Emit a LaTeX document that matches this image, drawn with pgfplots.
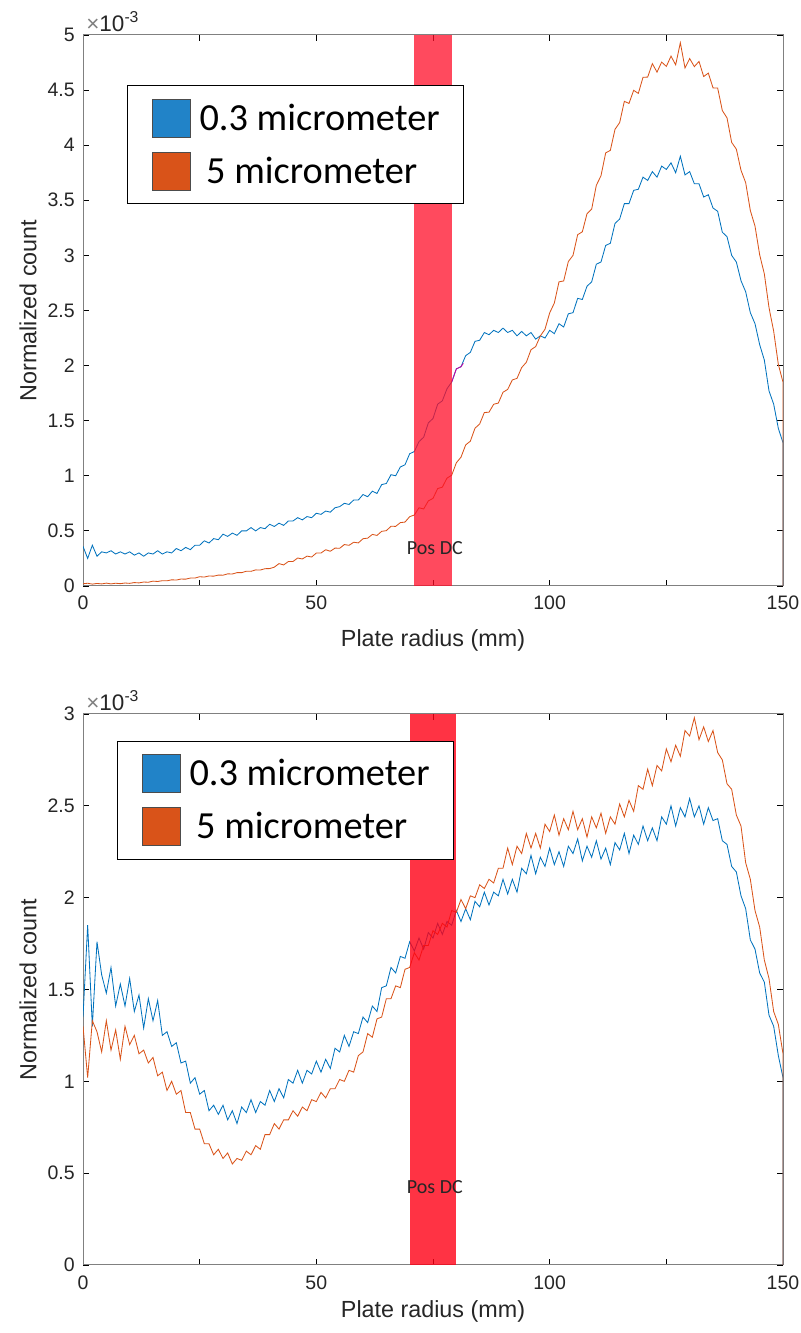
\documentclass[border=0pt]{standalone}
\usepackage{fontspec}
\setmainfont{Liberation Sans}
\newfontfamily\calibri{Carlito}
\usepackage{pgfplots}
\usepackage{pgfplotstable}
\pgfplotsset{compat=1.18}

\definecolor{mblue}{RGB}{0,114,189}
\definecolor{morange}{RGB}{217,83,25}
\definecolor{lblue}{RGB}{33,131,200}
\definecolor{lorange}{RGB}{217,83,25}
\definecolor{bandA}{RGB}{255,14,40}
\definecolor{bandB}{RGB}{255,0,21}
\definecolor{axgray}{RGB}{128,128,128}
\definecolor{txt}{RGB}{38,38,38}
\definecolor{mag}{RGB}{204,0,160}

% radius (mm), 0.3 um, 5 um  -- counts in units of 1e-3
\pgfplotstableread{
x b o
0 0.36 0.020
1 0.25 0.025
2 0.37 0.017
3 0.27 0.023
4 0.31 0.019
5 0.30 0.026
6 0.32 0.019
7 0.29 0.025
8 0.31 0.021
9 0.29 0.027
10 0.31 0.024
11 0.28 0.031
12 0.30 0.028
13 0.27 0.036
14 0.30 0.034
15 0.29 0.044
16 0.32 0.041
17 0.29 0.048
18 0.31 0.047
19 0.30 0.056
20 0.34 0.054
21 0.32 0.063
22 0.35 0.062
23 0.33 0.072
24 0.37 0.072
25 0.37 0.084
26 0.41 0.081
27 0.39 0.091
28 0.43 0.089
29 0.42 0.099
30 0.47 0.098
31 0.45 0.110
32 0.48 0.109
33 0.46 0.121
34 0.50 0.121
35 0.50 0.134
36 0.53 0.133
37 0.50 0.146
38 0.53 0.145
39 0.52 0.157
40 0.56 0.158
41 0.54 0.171
42 0.57 0.203
43 0.55 0.191
44 0.59 0.222
45 0.59 0.222
46 0.62 0.254
47 0.60 0.245
48 0.63 0.271
49 0.62 0.263
50 0.66 0.299
51 0.65 0.299
52 0.68 0.329
53 0.67 0.315
54 0.71 0.344
55 0.72 0.342
56 0.75 0.376
57 0.74 0.369
58 0.78 0.397
59 0.78 0.391
60 0.83 0.429
61 0.81 0.434
62 0.86 0.468
63 0.84 0.459
64 0.92 0.496
65 0.93 0.502
66 1.01 0.542
67 1.00 0.541
68 1.08 0.575
69 1.10 0.580
70 1.20 0.629
71 1.22 0.644
72 1.31 0.710
73 1.35 0.699
74 1.48 0.772
75 1.52 0.795
76 1.65 0.884
77 1.68 0.897
78 1.79 0.979
79 1.85 1.005
80 1.97 1.118
81 1.99 1.169
82 2.09 1.280
83 2.12 1.314
84 2.22 1.432
85 2.23 1.470
86 2.30 1.574
87 2.28 1.577
88 2.32 1.649
89 2.30 1.660
90 2.34 1.758
91 2.30 1.784
92 2.32 1.870
93 2.27 1.884
94 2.31 1.982
95 2.27 2.030
96 2.30 2.144
97 2.24 2.172
98 2.27 2.269
99 2.25 2.330
100 2.32 2.478
101 2.29 2.568
102 2.38 2.760
103 2.35 2.768
104 2.47 2.944
105 2.48 3.000
106 2.61 3.188
107 2.60 3.214
108 2.72 3.378
109 2.76 3.420
110 2.92 3.636
111 2.94 3.723
112 3.09 3.930
113 3.11 3.953
114 3.29 4.144
115 3.33 4.205
116 3.47 4.398
117 3.47 4.379
118 3.59 4.498
119 3.60 4.470
120 3.71 4.616
121 3.68 4.618
122 3.76 4.740
123 3.71 4.663
124 3.81 4.754
125 3.78 4.715
126 3.84 4.808
127 3.75 4.729
128 3.90 4.930
129 3.73 4.700
130 3.76 4.786
131 3.65 4.713
132 3.65 4.760
133 3.53 4.623
134 3.55 4.654
135 3.43 4.520
136 3.40 4.518
137 3.21 4.314
138 3.17 4.248
139 3.00 4.025
140 2.94 3.964
141 2.77 3.772
142 2.67 3.660
143 2.48 3.407
144 2.38 3.266
145 2.19 3.005
146 2.05 2.832
147 1.77 2.526
148 1.65 2.312
149 1.43 2.010
150 1.30 1.850
150 0 0
}\topdata

\pgfplotstableread{
x b o
0 1.35 1.30
1 1.85 1.02
2 1.30 1.33
3 1.76 1.27
4 1.58 1.16
5 1.48 1.33
6 1.62 1.17
7 1.41 1.28
8 1.53 1.12
9 1.41 1.30
10 1.56 1.20
11 1.38 1.25
12 1.47 1.15
13 1.29 1.17
14 1.45 1.10
15 1.33 1.13
16 1.44 1.03
17 1.25 1.05
18 1.27 0.95
19 1.19 1.00
20 1.21 0.93
21 1.10 0.95
22 1.11 0.83
23 0.99 0.83
24 1.02 0.74
25 0.93 0.74
26 0.95 0.66
27 0.84 0.66
28 0.87 0.60
29 0.82 0.63
30 0.87 0.58
31 0.79 0.61
32 0.84 0.55
33 0.77 0.58
34 0.86 0.57
35 0.83 0.62
36 0.90 0.60
37 0.83 0.65
38 0.89 0.63
39 0.87 0.71
40 0.95 0.71
41 0.89 0.77
42 0.96 0.74
43 0.91 0.79
44 1.01 0.79
45 0.99 0.84
46 1.06 0.81
47 0.99 0.86
48 1.06 0.84
49 1.04 0.90
50 1.11 0.89
51 1.05 0.94
52 1.12 0.91
53 1.07 0.96
54 1.18 0.96
55 1.16 1.01
56 1.25 1.00
57 1.19 1.06
58 1.27 1.05
59 1.26 1.14
60 1.35 1.16
61 1.32 1.26
62 1.41 1.24
63 1.38 1.34
64 1.51 1.35
65 1.52 1.45
66 1.62 1.45
67 1.59 1.52
68 1.68 1.51
69 1.67 1.61
70 1.76 1.62
71 1.71 1.70
72 1.78 1.66
73 1.72 1.74
74 1.81 1.74
75 1.78 1.82
76 1.86 1.80
77 1.80 1.86
78 1.87 1.84
79 1.85 1.93
80 1.93 1.92
81 1.87 1.99
82 1.94 1.94
83 1.88 2.01
84 1.98 2.00
85 1.95 2.07
86 2.03 2.05
87 1.96 2.10
88 2.03 2.08
89 2.01 2.16
90 2.10 2.16
91 2.02 2.27
92 2.10 2.18
93 2.03 2.28
94 2.16 2.24
95 2.13 2.35
96 2.23 2.27
97 2.13 2.35
98 2.22 2.27
99 2.17 2.40
100 2.27 2.36
101 2.18 2.45
102 2.25 2.34
103 2.17 2.43
104 2.28 2.37
105 2.24 2.47
106 2.32 2.37
107 2.20 2.43
108 2.28 2.33
109 2.22 2.44
110 2.31 2.38
111 2.21 2.46
112 2.27 2.35
113 2.18 2.44
114 2.30 2.40
115 2.26 2.51
116 2.35 2.44
117 2.24 2.53
118 2.34 2.47
119 2.29 2.61
120 2.39 2.59
121 2.31 2.70
122 2.38 2.61
123 2.31 2.72
124 2.44 2.69
125 2.40 2.81
126 2.50 2.74
127 2.39 2.83
128 2.49 2.77
129 2.44 2.91
130 2.54 2.88
131 2.44 2.98
132 2.50 2.86
133 2.40 2.93
134 2.49 2.85
135 2.42 2.91
136 2.43 2.79
137 2.31 2.75
138 2.29 2.62
139 2.17 2.59
140 2.14 2.45
141 2.01 2.39
142 1.94 2.19
143 1.77 2.10
144 1.72 1.93
145 1.59 1.84
146 1.54 1.66
147 1.36 1.56
148 1.30 1.38
149 1.14 1.31
150 1.02 1.15
150 0 0
}\bottomdata

\pgfplotsset{
  matlab/.style={
    scale only axis, width=420pt, height=330.6pt,
    xmin=0, xmax=150,
    xtick={0,25,...,150}, xticklabels={0,,50,,100,,150},
    /pgf/number format/assume math mode=true,
    tick align=inside, major tick length=3.6pt,
    every tick/.style={black, line width=0.5pt},
    axis line style={axgray, line width=0.6pt},
    tick label style={font=\fontsize{11.7}{14}\selectfont, text=txt},
    xticklabel style={yshift=-2.7pt},
    yticklabel style={xshift=-1.5pt},
    label style={font=\fontsize{14}{16}\selectfont, text=txt},
    xlabel={Plate radius (mm)}, ylabel={Normalized count},
    ylabel style={at={(axis description cs:-0.0786,0.5)}, anchor=center},
    legend cell align=left,
    legend style={anchor=north west, draw=black, line width=0.6pt, fill=white,
      inner xsep=14.4pt, inner ysep=7.8pt, row sep=8.4pt, column sep=5.4pt,
      font=\calibri\fontsize{23}{27}\selectfont,
      nodes={inner sep=0pt}},
    extra description/.code={
      \node[anchor=base west, inner sep=0pt, text=txt]
        at ([xshift=1.8pt,yshift=2pt]0,1)
        {\fontsize{13.5}{15}\selectfont{\color{axgray}×}10\textsuperscript{-3}};
    },
  },
  bandleg/.style={legend image code/.code={
      \draw[fill=#1, draw=black!70, line width=0.6pt] (0pt,-11.4pt) rectangle (22.8pt,11.4pt);}},
}

\begin{document}
\begin{tikzpicture}
\path[use as bounding box] (0,0) rectangle (480pt,799.8pt);

% upper panel
\begin{axis}[matlab, at={(49.8pt,448.2pt)}, anchor=south west,
  ymin=0, ymax=5, ytick={0,0.5,...,5},
  yticklabels={0,0.5,1,1.5,2,2.5,3,3.5,4,4.5,5},
  xlabel style={at={(axis description cs:0.5,-0.098)}, anchor=center},
  legend style={at={(0.0629,0.909)}}]
\addplot[mblue, line width=0.5pt, forget plot] table[x=x,y=b]{\topdata};
\addplot[morange, line width=0.5pt, forget plot] table[x=x,y=o]{\topdata};
\addplot[mag, line width=0.5pt, forget plot] coordinates {(79,1.85) (80,1.97) (81,1.99) (81.5,2.02)};
\addplot[fill=bandA, fill opacity=0.75, draw=none, forget plot] coordinates {(71,5) (79,5)} \closedcycle;
\node[font=\calibri\fontsize{12}{14}\selectfont, text=black!85] at (axis cs:75.4,0.345) {Pos DC};
\addlegendimage{bandleg=lblue}
\addlegendentry{0.3 micrometer}
\addlegendimage{bandleg=lorange}
\addlegendentry{\hspace{4pt}5 micrometer}
\end{axis}

% lower panel
\begin{axis}[matlab, at={(49.8pt,40.8pt)}, anchor=south west,
  ymin=0, ymax=3, ytick={0,0.5,...,3},
  yticklabels={0,0.5,1,1.5,2,2.5,3},
  xlabel style={at={(axis description cs:0.5,-0.0835)}, anchor=center},
  legend style={at={(0.0486,0.9515)}}]
\addplot[mblue, line width=0.5pt, forget plot] table[x=x,y=b]{\bottomdata};
\addplot[morange, line width=0.5pt, forget plot] table[x=x,y=o]{\bottomdata};
\addplot[fill=bandB, fill opacity=0.8, draw=none, forget plot] coordinates {(70,3) (80,3)} \closedcycle;
\node[font=\calibri\fontsize{12}{14}\selectfont, text=black!85] at (axis cs:75.4,0.425) {Pos DC};
\addlegendimage{bandleg=lblue}
\addlegendentry{0.3 micrometer}
\addlegendimage{bandleg=lorange}
\addlegendentry{\hspace{4pt}5 micrometer}
\end{axis}
\end{tikzpicture}
\end{document}
